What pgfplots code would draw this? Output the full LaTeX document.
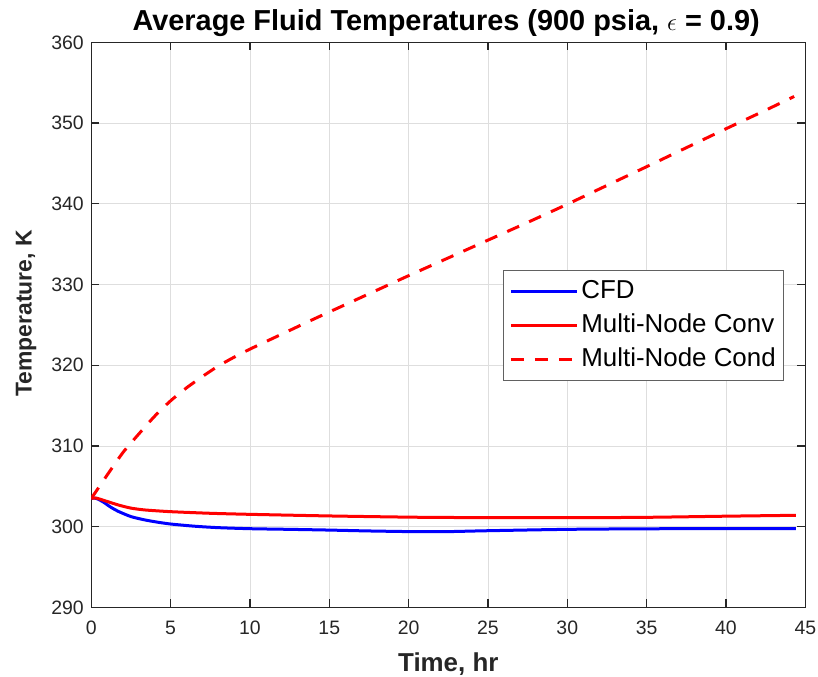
\documentclass[border=0pt]{standalone}
\usepackage{pgfplots}
\pgfplotsset{compat=1.18}
\usepackage{fontspec}
\setmainfont{Liberation Sans}
\definecolor{axgray}{rgb}{0.15,0.15,0.15}
\begin{document}
\begin{tikzpicture}
\path[use as bounding box] (0,0) rectangle (818bp,677bp);
\begin{axis}[
  at={(91.3bp,69.6bp)}, anchor=south west,
  scale only axis, width=714bp, height=565bp,
  xmin=0, xmax=45, ymin=290, ymax=360,
  xtick={0,5,...,45}, ytick={290,300,...,360},
  /pgf/number format/assume math mode=true,
  tick label style={font=\fontsize{19.5}{22}\selectfont, text=axgray},
  xticklabel style={yshift=-10bp},
  yticklabel style={xshift=-4bp},
  axis line style={axgray, line width=1.5bp},
  tick style={axgray, line width=1.3bp},
  major tick length=8bp,
  tick align=inside,
  grid=major,
  grid style={black!13, line width=0.8bp},
  title={\bfseries Average Fluid Temperatures (900 psia, $\epsilon$ = 0.9)},
  title style={font=\fontsize{29}{33}\selectfont, at={(axis description cs:0.497,1.010)}, anchor=base},
  xlabel={\bfseries Time, hr},
  ylabel={\bfseries Temperature, K},
  xlabel style={font=\fontsize{26}{30}\selectfont, text=axgray, at={(axis description cs:0.5,-0.1143)}, anchor=base},
  ylabel style={font=\fontsize{23}{27}\selectfont, text=axgray, at={(axis description cs:-0.0835,0.52)}, anchor=base, rotate=0},
  legend style={at={(0.5766,0.597)}, anchor=north west, font=\fontsize{26}{30}\selectfont,
    draw=black!62, line width=0.8bp, row sep=4bp, column sep=1bp, inner sep=6bp,
    nodes={inner sep=2bp, text height=20bp, text depth=6bp}},
  legend cell align=left,
  legend image code/.code={\draw[#1, line width=3bp] (0bp,0bp) -- (66bp,0bp);},
]
\addplot[blue, line width=3bp, smooth, tension=0.4] coordinates {
(0,303.5) (0.2,303.55) (0.44,303.4) (0.8,303.0) (1.2,302.45) (1.7,301.9) (2.5,301.25) (3.39,300.83) (4.2,300.55) (5,300.33) (6.5,300.06) (8,299.88) (10,299.75) (12.5,299.67) (15,299.58) (17.5,299.47) (20.5,299.38) (22.5,299.39) (25,299.5) (30,299.67) (35,299.74) (40,299.75) (44.4,299.75)
};
\addlegendentry{CFD}
\addplot[red, line width=3bp, smooth, tension=0.4] coordinates {
(0,303.5) (0.3,303.55) (0.8,303.25) (1.7,302.69) (2.5,302.3) (3.39,302.07) (5,301.86) (7.5,301.66) (10,301.53) (15,301.33) (20.5,301.17) (25,301.12) (30,301.11) (35,301.16) (40,301.3) (44.4,301.41)
};
\addlegendentry{Multi-Node Conv}
\addplot[red, line width=3bp, smooth, tension=0.4, dash pattern=on 13bp off 11bp] coordinates {
(0,303.5) (1,306.4) (2,309.2) (3,311.5) (4,313.7) (5,315.6) (6,317.2) (7,318.6) (8,319.9) (9,321.0) (10,322.0) (12,323.85) (14,325.7) (16,327.5) (18,329.3) (20,331.1) (22.5,333.3) (25,335.5) (27.5,337.7) (30,339.95) (32.5,342.28) (35,344.6) (37.5,346.95) (40,349.3) (42.5,351.6) (44.3,353.3)
};
\addlegendentry{Multi-Node Cond}
\end{axis}
\end{tikzpicture}
\end{document}
